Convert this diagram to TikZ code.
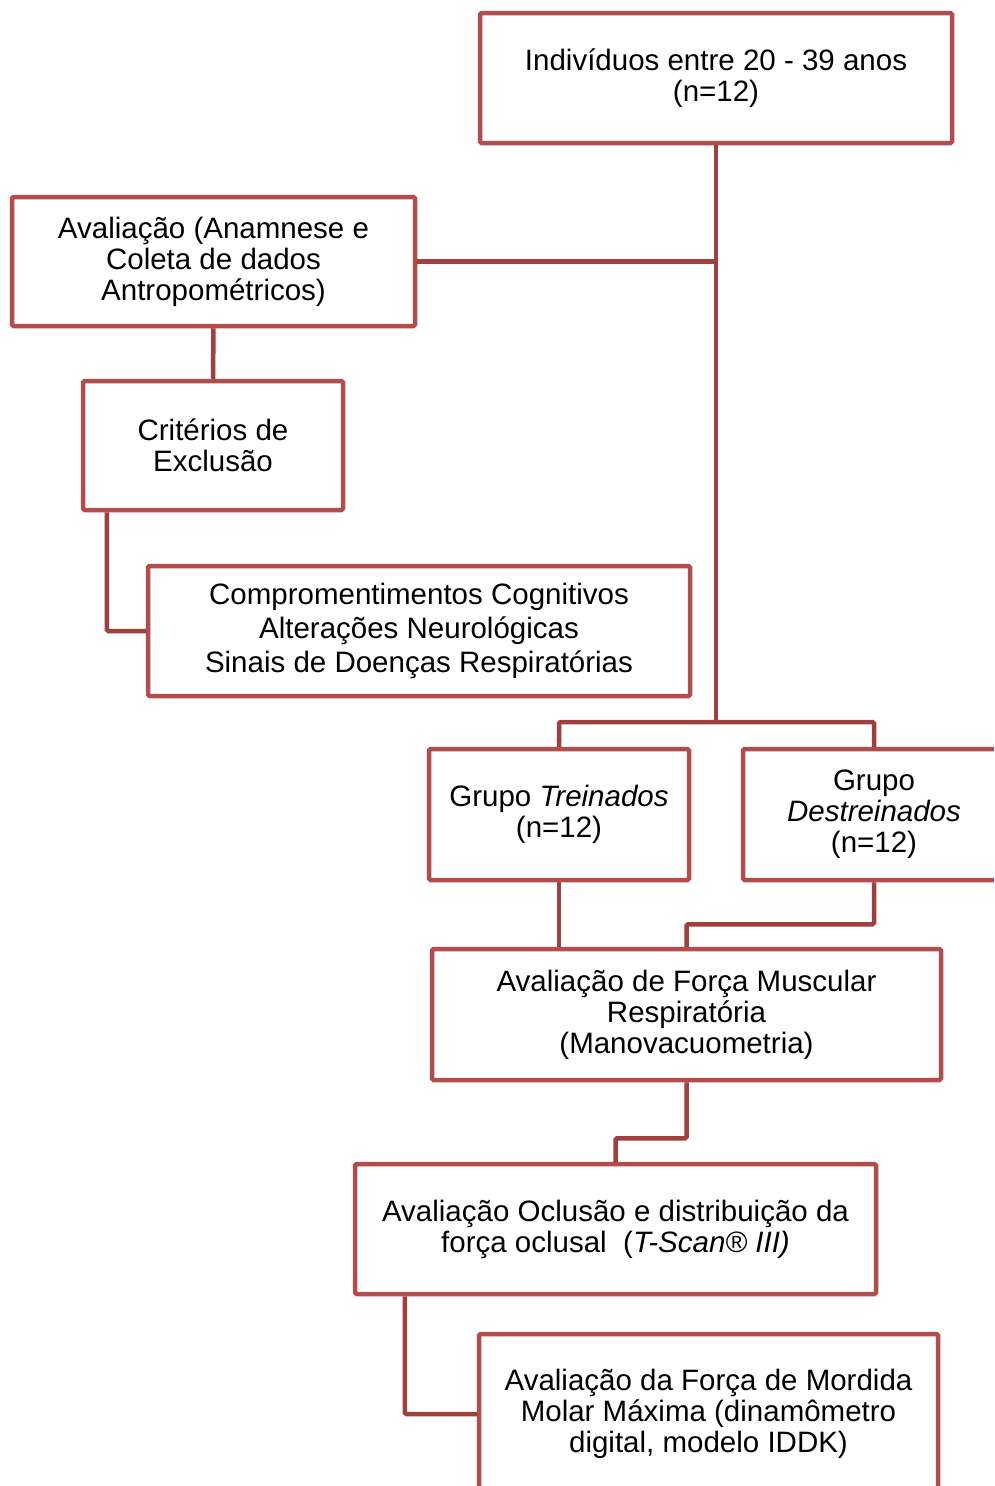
\documentclass[tikz,border=0pt]{standalone}
\usepackage{fontspec}
\setmainfont{Liberation Sans}
\definecolor{boxred}{RGB}{179,77,75}
\definecolor{linered}{RGB}{160,64,62}
\tikzset{
  box/.style={draw=boxred, line width=4.5pt, rounded corners=1.5pt, fill=white, align=center,
    inner sep=0pt, font=\fontsize{29.5}{31}\selectfont},
  conn/.style={draw=linered, line width=4.5pt, rounded corners=1.5pt}
}
\begin{document}
\begin{tikzpicture}[x=1pt,y=-1pt]
\path[clip] (0,0) rectangle (994,1486);
\useasboundingbox (0,0) rectangle (994,1486);
\fill[white] (0,0) rectangle (994,1486);
\coordinate (j1) at (716,722);
\node[box, minimum width=472pt, minimum height=130pt] (top) at (716,78) {Indivíduos entre 20 - 39 anos\\(n=12)};
\node[box, minimum width=403pt, minimum height=129pt] (aval) at (213.5,261.5) {Avaliação (Anamnese e\\Coleta de dados\\Antropométricos)};
\node[box, minimum width=260pt, minimum height=129pt] (crit) at (213,445.5) {Critérios de\\Exclusão};
\node[box, minimum width=542pt, minimum height=130pt, font=\fontsize{29.5}{34}\selectfont] (comp) at (419,631) {Compromentimentos Cognitivos\\Alterações Neurológicas\\Sinais de Doenças Respiratórias};
\node[box, minimum width=260pt, minimum height=131pt] (treina) at (559,814.5) {Grupo \textit{Treinados}\\(n=12)};
\node[box, minimum width=262pt, minimum height=131pt] (destre) at (874,814.5) {Grupo\\\textit{Destreinados}\\(n=12)};
\node[box, minimum width=509pt, minimum height=131pt] (forca) at (686.5,1014.5) {Avaliação de Força Muscular\\Respiratória\\(Manovacuometria)};
\node[box, minimum width=521pt, minimum height=130pt] (ocl) at (615.5,1229) {Avaliação Oclusão e distribuição da\\força oclusal\ \ (\textit{T-Scan® III)}};
\node[box, minimum width=459pt, minimum height=160pt] (mord) at (708.5,1414) {Avaliação da Força de Mordida\\Molar Máxima (dinamômetro\\digital, modelo IDDK)};
% connectors
\draw[conn] (top.south) -- (j1);
\draw[conn] (aval.east) -- (aval.east -| j1);
\draw[conn] (treina.north) |- (j1) -| (destre.north);
\draw[conn] (aval.south) -- (crit.north);
\draw[conn] ([xshift=26pt]crit.south west) |- (comp.west);
\draw[conn] (treina.south) -- (treina.south |- forca.north);
\draw[conn] (destre.south) -- ++(0,42) -| (forca.north);
\draw[conn] (forca.south) -- ++(0,56) -| (ocl.north);
\draw[conn] ([xshift=52pt]ocl.south west) |- (mord.west);
\end{tikzpicture}
\end{document}
